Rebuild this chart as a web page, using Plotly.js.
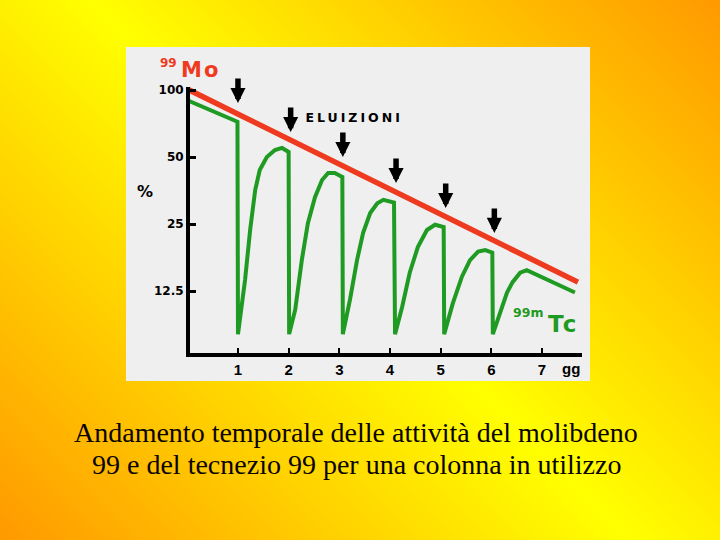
<!DOCTYPE html>
<html>
<head>
<meta charset="utf-8">
<script src="https://cdn.plot.ly/plotly-3.0.1.min.js"></script>
<style>
  html, body { margin: 0; padding: 0; }
  body {
    width: 720px; height: 540px; overflow: hidden;
    background: linear-gradient(45deg, #ff9900 0%, #ffff00 50%, #ff9900 100%);
  }
  #chart { width: 720px; height: 540px; }
  .annotation[data-index="1"] text { letter-spacing: 2px; }
  .annotation[data-index="2"] text { letter-spacing: 3px; }
  .annotation[data-index="4"] text { letter-spacing: 2px; }
</style>
</head>
<body>
<div id="chart"></div>
<script>
// ---- data ----
// 99Mo activity (%), straight decay on log scale
const moDays   = [0, 7.71];
const moValues = [101, 13.7];

// 99mTc activity (%) with elutions
const tcDays = [
  0.0, 0.99, 1.0,
  1.14, 1.24, 1.34, 1.43, 1.57, 1.73, 1.87, 2.0, 2.01,
  2.13, 2.26, 2.38, 2.52, 2.66, 2.78, 2.91, 3.06, 3.07,
  3.21, 3.35, 3.47, 3.61, 3.75, 3.87, 4.08, 4.1,
  4.24, 4.39, 4.55, 4.73, 4.89, 5.06, 5.07,
  5.24, 5.42, 5.58, 5.74, 5.88, 6.02, 6.03,
  6.17, 6.31, 6.42, 6.57, 6.70, 7.65
];
const tcValues = [
  90, 72, 8.0,
  14.0, 23.5, 35.5, 43.7, 50.0, 53.7, 54.9, 52.7, 8.0,
  10.3, 17.2, 25.2, 33.0, 39.4, 42.4, 42.4, 40.7, 8.0,
  11.4, 17.2, 22.8, 28.0, 31.0, 32.1, 31.2, 8.0,
  10.6, 15.1, 19.7, 23.5, 24.8, 24.2, 8.0,
  11.0, 14.5, 17.2, 18.8, 19.1, 18.6, 8.0,
  10.0, 12.3, 13.7, 15.1, 15.5, 12.3
];

// elution arrows (day, activity at arrow tip)
const arrowDays = [1.0, 2.04, 3.07, 4.12, 5.1, 6.06];
const arrowTips = [87.4, 64.7, 50, 38.2, 29.5, 22.8];

// axis ticks
const xTickVals = [1, 2, 3, 4, 5, 6, 7];
const xTickText = ['1', '2', '3', '4', '5', '6', '7'];
const yTickVals = [12.5, 25, 50, 100];
const yTickText = ['12.5', '25', '50', '100'];

const captionLines = [
  'Andamento temporale delle attività del molibdeno',
  '99 e del tecnezio 99 per una colonna in utilizzo'
];

// ---- styles ----
const RED = '#ee3a1e';
const GREEN = '#1f9a22';
const BOLD = 'DejaVu Sans, Liberation Sans, Arial, sans-serif';
const ARIAL = 'Liberation Sans, Arial, sans-serif';

const traces = [
  {
    x: moDays, y: moValues, mode: 'lines', type: 'scatter',
    line: {color: RED, width: 5.5}, hoverinfo: 'skip', showlegend: false
  },
  {
    x: tcDays, y: tcValues, mode: 'lines', type: 'scatter',
    line: {color: GREEN, width: 4}, hoverinfo: 'skip', showlegend: false
  }
];

const annotations = [
  {text: '99', xref: 'paper', yref: 'paper', x: -0.0548, y: 1.092, showarrow: false,
   xanchor: 'center', yanchor: 'middle', font: {family: BOLD, size: 12, weight: 'bold', color: RED}},
  {text: 'Mo', xref: 'paper', yref: 'paper', x: 0.028, y: 1.064, showarrow: false,
   xanchor: 'center', yanchor: 'middle', font: {family: BOLD, size: 21, weight: 'bold', color: RED}},
  {text: 'ELUIZIONI', xref: 'paper', yref: 'paper', x: 0.419, y: 0.8872, showarrow: false,
   xanchor: 'center', yanchor: 'middle', font: {family: BOLD, size: 12.5, weight: 'bold', color: '#000'}},
  {text: '99m', xref: 'paper', yref: 'paper', x: 0.861, y: 0.1541, showarrow: false,
   xanchor: 'center', yanchor: 'middle', font: {family: BOLD, size: 12.5, weight: 'bold', color: GREEN}},
  {text: 'Tc', xref: 'paper', yref: 'paper', x: 0.951, y: 0.110, showarrow: false,
   xanchor: 'center', yanchor: 'middle', font: {family: BOLD, size: 23, weight: 'bold', color: GREEN}},
  {text: '%', xref: 'paper', yref: 'paper', x: -0.1148, y: 0.6053, showarrow: false,
   xanchor: 'center', yanchor: 'middle', font: {family: BOLD, size: 16, weight: 'bold', color: '#000'}},
  {text: 'gg', xref: 'paper', yref: 'paper', x: 0.972, y: -0.0564, showarrow: false,
   xanchor: 'center', yanchor: 'middle', font: {family: ARIAL, size: 15, weight: 'bold', color: '#000'}},
  {text: captionLines[0], xref: 'paper', yref: 'paper', x: 0.4235, y: -0.297, showarrow: false,
   xanchor: 'center', yanchor: 'middle', font: {family: 'Liberation Serif, Times New Roman, serif', size: 28, color: '#0a0400'}},
  {text: captionLines[1], xref: 'paper', yref: 'paper', x: 0.4235, y: -0.421, showarrow: false,
   xanchor: 'center', yanchor: 'middle', font: {family: 'Liberation Serif, Times New Roman, serif', size: 28, color: '#0a0400'}}
];

arrowDays.forEach((d, i) => {
  annotations.push({
    x: d, y: Math.log10(arrowTips[i]), xref: 'x', yref: 'y', text: '',
    showarrow: true, arrowhead: 2, arrowsize: 0.55, arrowwidth: 5.5, arrowcolor: '#000',
    ax: 0, ay: -26, standoff: 0
  });
});

const layout = {
  width: 720, height: 540,
  margin: {l: 190, r: 138, t: 87, b: 187, pad: 0},
  paper_bgcolor: 'rgba(0,0,0,0)',
  plot_bgcolor: 'rgba(0,0,0,0)',
  showlegend: false,
  xaxis: {
    range: [0.0533, 7.79], showgrid: false, zeroline: false,
    showline: true, linewidth: 4, linecolor: '#000',
    ticks: 'inside', ticklen: 5, tickwidth: 2, tickcolor: '#000',
    tickvals: xTickVals, ticktext: xTickText,
    tickfont: {family: ARIAL, size: 15, weight: 'bold', color: '#000'},
    fixedrange: true
  },
  yaxis: {
    type: 'log', range: [0.81834, 2.01348], showgrid: false, zeroline: false,
    showline: true, linewidth: 4, linecolor: '#000',
    ticks: 'inside', ticklen: 6, tickwidth: 3, tickcolor: '#000',
    tickvals: yTickVals, ticktext: yTickText,
    tickfont: {family: BOLD, size: 12, weight: 'bold', color: '#000'},
    fixedrange: true
  },
  shapes: [{
    type: 'rect', xref: 'paper', yref: 'paper', layer: 'below',
    x0: -0.1633, x1: 1.0204, y0: -0.1053, y1: 1.1504,
    fillcolor: '#efefef', line: {width: 0}
  }],
  annotations: annotations
};

Plotly.newPlot('chart', traces, layout, {displayModeBar: false, staticPlot: true});
</script>
</body>
</html>
